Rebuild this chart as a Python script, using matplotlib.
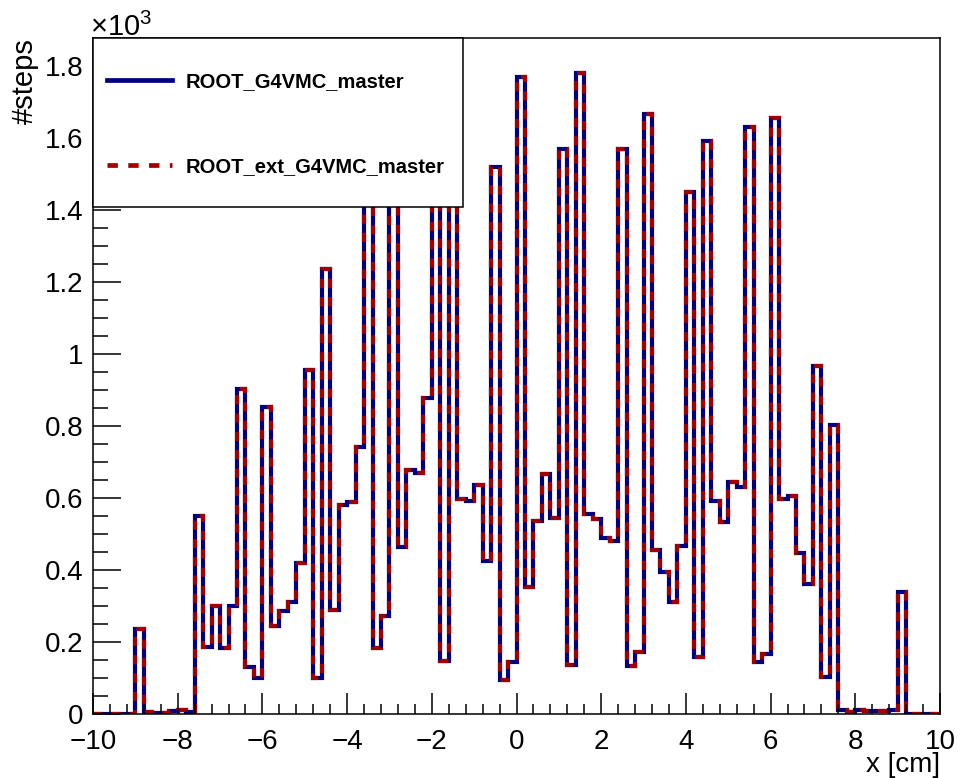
import numpy as np
import matplotlib
matplotlib.use('Agg')
import matplotlib.pyplot as plt
from matplotlib.patches import Rectangle
from matplotlib.ticker import MultipleLocator, FuncFormatter

# histogram: 100 bins of 0.2 cm between -10 and 10, counts of steps
x_min, x_max, n_bins = -10.0, 10.0, 100
steps = [
    0, 0, 0, 0, 0, 235, 5, 2, 4, 8,
    10, 6, 550, 187, 300, 183, 300, 902, 131, 99,
    854, 244, 285, 310, 420, 957, 99, 1237, 289, 580,
    590, 742, 1500, 182, 272, 1550, 464, 679, 669, 878,
    1600, 148, 1520, 596, 592, 637, 425, 1519, 94, 145,
    1770, 352, 537, 667, 545, 1570, 136, 1782, 557, 541,
    490, 482, 1570, 132, 171, 1667, 455, 395, 310, 468,
    1450, 157, 1592, 593, 533, 644, 630, 1632, 145, 168,
    1657, 596, 606, 446, 361, 968, 102, 802, 10, 5,
    12, 8, 7, 7, 10, 340, 0, 0, 0, 0,
]
# second histogram is identical to the first
steps_ext = list(steps)

series_names = ['ROOT_G4VMC_master', 'ROOT_ext_G4VMC_master']
blue = '#000080'
red = '#a00000'

plt.rcParams['font.family'] = ['Liberation Sans', 'DejaVu Sans']
plt.rcParams['mathtext.fontset'] = 'custom'
plt.rcParams['mathtext.rm'] = 'Liberation Sans'

edges = np.linspace(x_min, x_max, n_bins + 1)

W, H = 960, 778
fig = plt.figure(figsize=(W/100, H/100), dpi=100)
ax = fig.add_axes([93/W, 1 - 714/H, 847/W, 676/H])

ax.stairs(np.array(steps) / 1000, edges, color=blue, lw=3, label=series_names[0])
ax.stairs(np.array(steps_ext) / 1000, edges, color=red, lw=3,
          linestyle=(0, (2.2, 2.2)), label=series_names[1])

ax.set_xlim(x_min, x_max)
ax.set_ylim(0, 1.878)

ax.xaxis.set_major_locator(MultipleLocator(2))
ax.xaxis.set_minor_locator(MultipleLocator(0.4))
ax.yaxis.set_major_locator(MultipleLocator(0.2))
ax.yaxis.set_minor_locator(MultipleLocator(0.05))
ax.yaxis.set_major_formatter(FuncFormatter(lambda v, p: '%g' % round(v, 2)))
ax.xaxis.set_major_formatter(FuncFormatter(lambda v, p: ('%g' % v).replace('-', '\u2212')))

ax.tick_params(axis='both', which='both', direction='in', labelsize=20, width=1.1)
ax.tick_params(axis='x', which='major', length=15, pad=11)
ax.tick_params(axis='x', which='minor', length=7.5)
ax.tick_params(axis='y', which='major', length=20, pad=7)
ax.tick_params(axis='y', which='minor', length=11)
for s in ax.spines.values():
    s.set_linewidth(1.1)

fig.text(25/W, 1 - 38/H, '#steps', rotation=90, ha='center', va='top', fontsize=21)
fig.text(940/W, 1 - 772/H, 'x [cm]', ha='right', va='baseline', fontsize=20)
fig.text(90/W, 1 - 36/H, r'$\times10^{3}$', ha='left', va='baseline', fontsize=21)

# legend box in the top-left corner of the frame
box = Rectangle((93/W, 1 - 207/H), 370/W, 169/H, transform=fig.transFigure,
                facecolor='white', edgecolor='black', lw=1.1, zorder=4)
fig.add_artist(box)
leg = fig.legend(*ax.get_legend_handles_labels(), loc='center left',
                 bbox_to_anchor=(97/W, 1 - 124/H), frameon=False, borderpad=0,
                 prop={'family': 'Liberation Sans', 'weight': 'bold', 'size': 14.5},
                 labelspacing=3.3, handlelength=3.2, handletextpad=0.7)
leg.set_zorder(5)
for h in leg.legend_handles:
    h.set_linewidth(3.4)

fig.savefig('out.png', dpi=100)
